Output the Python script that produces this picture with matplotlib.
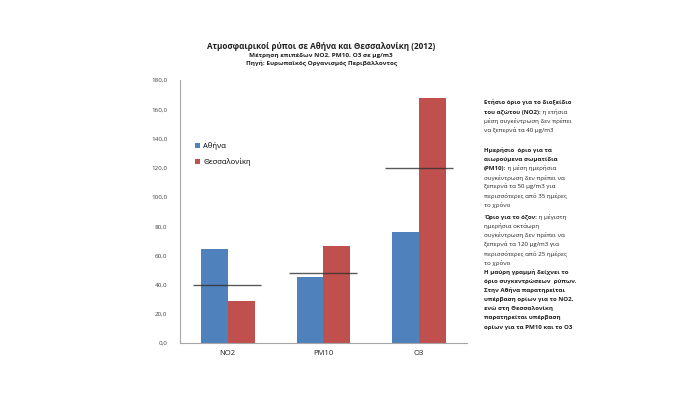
import matplotlib
matplotlib.use('Agg')
import matplotlib.pyplot as plt
import numpy as np

plt.rcParams['font.family'] = ['Open Sans', 'DejaVu Sans']

pollutants = ['NO2', 'PM10', 'O3']
athens = [64.5, 45.2, 76.0]
thessaloniki = [28.8, 66.4, 167.8]
limits = [40, 48, 120]
yticks = np.arange(0, 181, 20)

blue = '#4F81BD'
red = '#C0504D'

fig = plt.figure(figsize=(7, 3.93), dpi=100)
ax = fig.add_axes([0.257, 0.127, 0.41, 0.669])

x = np.arange(len(pollutants))
w = 0.28
ax.bar(x - w/2, athens, w, color=blue, label='Αθήνα')
ax.bar(x + w/2, thessaloniki, w, color=red, label='Θεσσαλονίκη')
for xi, lim in zip(x, limits):
    ax.hlines(lim, xi - 0.36, xi + 0.35, color='#303030', lw=1, alpha=0.8, zorder=3)

ax.set_xlim(-0.5, 2.5)
ax.set_ylim(0, 180)
ax.set_yticks(yticks)
ax.set_yticklabels([f'{v:.1f}'.replace('.', ',') for v in yticks], fontsize=4.5, color='#404040')
ax.set_xticks(x)
ax.set_xticklabels(pollutants, fontsize=5.5, color='#202020')
ax.tick_params(axis='both', length=0)
ax.tick_params(axis='y', pad=9)
ax.tick_params(axis='x', pad=5)
for s in ['top', 'right']:
    ax.spines[s].set_visible(False)
for s in ['left', 'bottom']:
    ax.spines[s].set_color('#A6A6A6')
    ax.spines[s].set_linewidth(0.8)

ax.legend(loc='upper left', bbox_to_anchor=(0.03, 0.79), frameon=False, fontsize=5.5,
          handlelength=0.6, handleheight=0.6, handletextpad=0.4, labelspacing=1.0)

fig.text(0.459, 1 - 46.7/393, 'Ατμοσφαιρικοί ρύποι σε Αθήνα και Θεσσαλονίκη (2012)',
         ha='center', va='center', fontsize=5.9, fontweight='bold', color='#202020')
fig.text(0.459, 1 - 56/393, 'Μέτρηση επιπέδων NO2, PM10, O3 σε μg/m3',
         ha='center', va='center', fontsize=4.55, fontweight='bold', color='#202020')
fig.text(0.459, 1 - 64/393, 'Πηγή: Ευρωπαϊκός Οργανισμός Περιβάλλοντος',
         ha='center', va='center', fontsize=4.55, fontweight='bold', color='#202020')

# side notes: (bold part, normal part) per line
notes = [
    [('Ετήσιο όριο για το διοξείδιο', ''),
     ('του αζώτου (NO2):', ' η ετήσια'),
     ('', 'μέση συγκέντρωση δεν πρέπει'),
     ('', 'να ξεπερνά τα 40 μg/m3')],
    [('Ημερήσιο  όριο για τα', ''),
     ('αιωρούμενα σωματίδια', ''),
     ('(PM10):', ' η μέση ημερήσια'),
     ('', 'συγκέντρωση δεν πρέπει να'),
     ('', 'ξεπερνά τα 50 μg/m3 για'),
     ('', 'περισσότερες από 35 ημέρες'),
     ('', 'το χρόνο')],
    [('Όριο για το όζον:', ' η μέγιστη'),
     ('', 'ημερήσια οκτάωρη'),
     ('', 'συγκέντρωση δεν πρέπει να'),
     ('', 'ξεπερνά τα 120 μg/m3 για'),
     ('', 'περισσότερες από 25 ημέρες'),
     ('', 'το χρόνο')],
    [('Η μαύρη γραμμή δείχνει το', ''),
     ('όριο συγκεντρώσεων  ρύπων.', ''),
     ('Στην Αθήνα παρατηρείται', ''),
     ('υπέρβαση ορίων για το NO2,', ''),
     ('ενώ στη Θεσσαλονίκη', ''),
     ('παρατηρείται υπέρβαση', ''),
     ('ορίων για τα PM10 και το O3', '')],
]
para_tops = [103, 150, 217, 272]
step = 9.2
x0 = 484 / 700
fs = 4.4
for top, para in zip(para_tops, notes):
    for i, (b, n) in enumerate(para):
        y = 1 - (top + i * step) / 393
        t = fig.text(x0, y, b if b else n, ha='left', va='center', fontsize=fs,
                     fontweight='bold' if b else 'normal', color='#202020')
        if b and n:
            ax.annotate(n, xy=(1, 0.5), xycoords=t, va='center', ha='left',
                        fontsize=fs, color='#202020', annotation_clip=False)

fig.savefig('out.png', dpi=100)
